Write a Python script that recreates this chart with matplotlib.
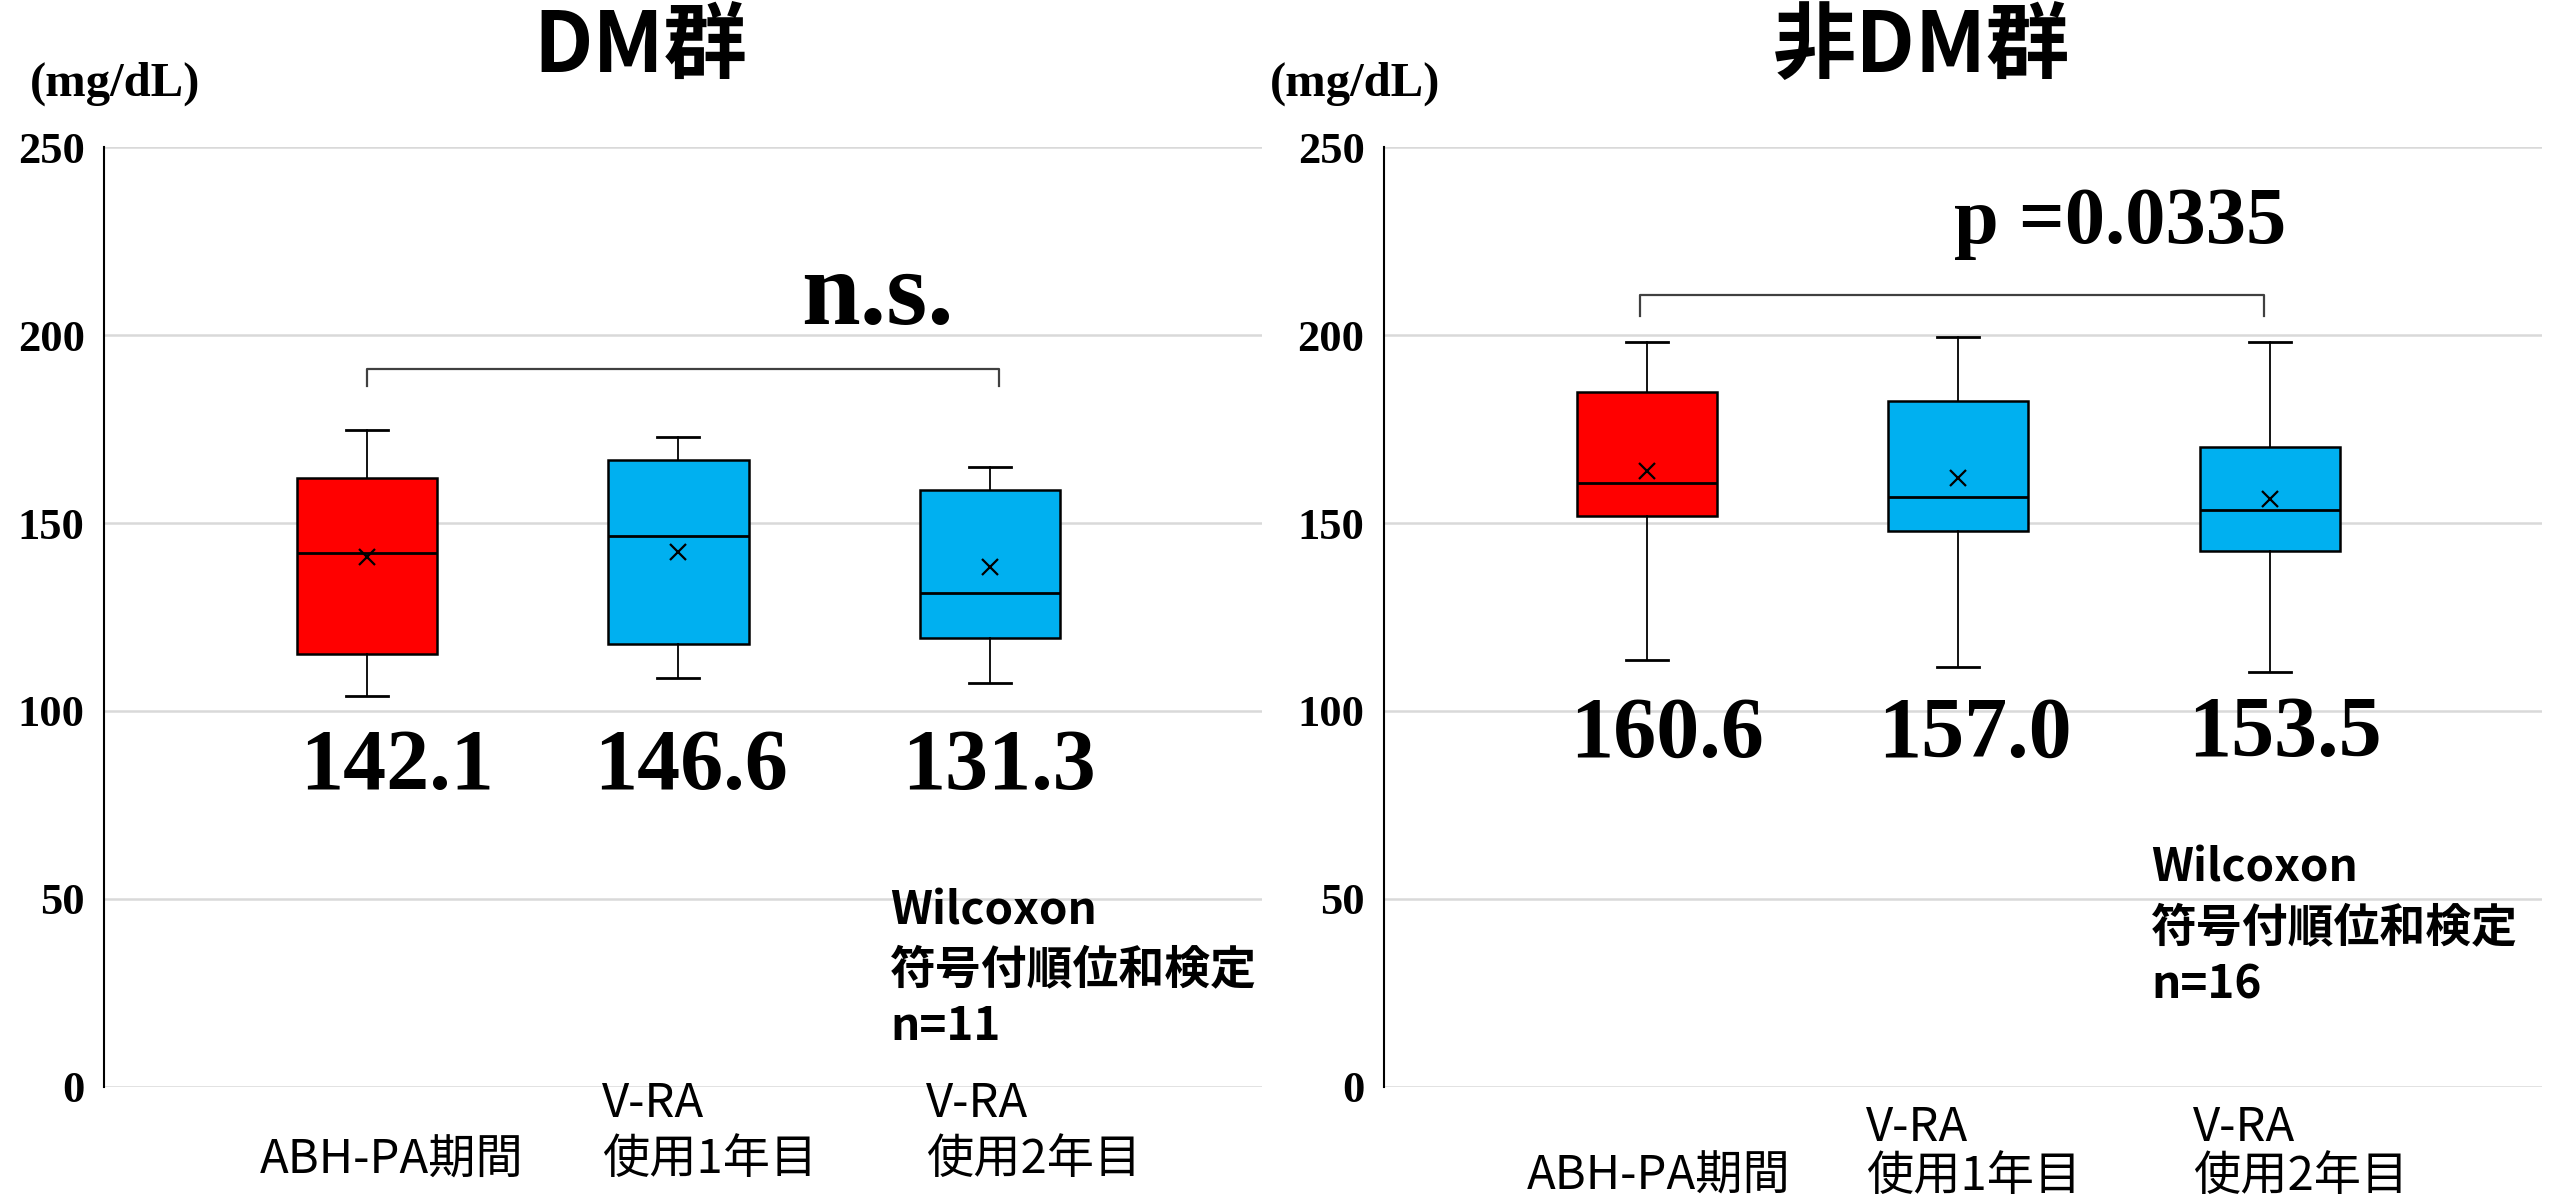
import numpy as np
import matplotlib
matplotlib.use('Agg')
import matplotlib.pyplot as plt
import matplotlib.transforms as mtransforms

# Category labels and box statistics (mg/dL)
categories = ['\nABH-PA期間', 'V-RA\n使用1年目', 'V-RA\n使用2年目']
panel_titles = ['DM群', '非DM群']

# DM group
dm_whislo = [104.0, 108.8, 107.5]
dm_q1 = [115.1, 117.7, 119.4]
dm_med = [142.1, 146.6, 131.3]
dm_q3 = [162.0, 166.7, 158.9]
dm_whishi = [174.8, 173.0, 164.9]
dm_mean = [141.1, 142.4, 138.3]

# non-DM group
ndm_whislo = [113.6, 111.6, 110.3]
ndm_q1 = [151.8, 147.9, 142.6]
ndm_med = [160.6, 157.0, 153.5]
ndm_q3 = [184.9, 182.4, 170.3]
ndm_whishi = [198.1, 199.4, 198.1]
ndm_mean = [163.8, 162.0, 156.4]

# significance brackets and annotations
dm_bracket_x = [1.0, 3.03]
dm_bracket_y = [186.4, 191.0]
ndm_bracket_x = [0.98, 2.98]
ndm_bracket_y = [205.0, 210.6]
sig_text = ['n.s.', 'p =0.0335']
note_lines = [['Wilcoxon', '符号付順位和検定', 'n=11'],
              ['Wilcoxon', '符号付順位和検定', 'n=16']]

box_colors = ['#FF0000', '#00B0F0', '#00B0F0']
positions = [1, 2, 3]

fig = plt.figure(figsize=(25.52, 11.98), dpi=100)
serif_bold = dict(family=['Liberation Serif', 'DejaVu Serif'], weight='bold')
jp = ['Noto Sans CJK JP', 'DejaVu Sans']


def make_stats(lo, q1, med, q3, hi, mean):
    return [dict(whislo=lo[i], q1=q1[i], med=med[i], q3=q3[i], whishi=hi[i],
                 mean=mean[i], fliers=[]) for i in range(len(med))]


panels = [
    dict(left=0.0408, stats=make_stats(dm_whislo, dm_q1, dm_med, dm_q3, dm_whishi, dm_mean),
         med=dm_med, bx=dm_bracket_x, by=dm_bracket_y, sig_xy=(2.64, 203.0),
         sig_size=76, label_y=79.3, label_dx=[0.096, 0.04, 0.03],
         note_x=2.68, note_y=[43.3, 27.6, 12.4], title_x=0.251, unit_x=0.045,
         xl_dx=[0.08, 0.10, 0.14], xl_y=0.008, xl_ls=1.22),
    dict(left=0.5423, stats=make_stats(ndm_whislo, ndm_q1, ndm_med, ndm_q3, ndm_whishi, ndm_mean),
         med=ndm_med, bx=ndm_bracket_x, by=ndm_bracket_y, sig_xy=(2.52, 224.6),
         sig_size=58, label_y=87.9, label_dx=[0.064, 0.054, 0.048],
         note_x=2.62, note_y=[54.5, 38.8, 23.4], title_x=0.753, unit_x=0.531,
         xl_dx=[0.04, 0.05, 0.10], xl_y=-0.018, xl_ls=1.0),
]

for k, p in enumerate(panels):
    ax = fig.add_axes([p['left'], 0.0929, 0.4536, 0.7841])
    bp = ax.bxp(p['stats'], positions=positions, widths=0.45, capwidths=0.135,
                showmeans=True, showfliers=False, patch_artist=True,
                boxprops=dict(edgecolor='black', linewidth=1.8),
                medianprops=dict(color='black', linewidth=2.0),
                whiskerprops=dict(color='black', linewidth=1.3),
                capprops=dict(color='black', linewidth=2.0),
                meanprops=dict(marker='x', markeredgecolor='black', markersize=12,
                               markeredgewidth=1.6))
    for patch, c in zip(bp['boxes'], box_colors):
        patch.set_facecolor(c)

    ax.set_xlim(0.157, 3.872)
    ax.set_ylim(0, 250)
    ax.set_yticks([0, 50, 100, 150, 200, 250])
    ax.yaxis.grid(True, color='#d9d9d9', linewidth=1.8)
    ax.set_axisbelow(True)
    for s in ['top', 'right', 'bottom']:
        ax.spines[s].set_visible(False)
    ax.spines['left'].set_linewidth(1.5)
    ax.tick_params(axis='y', length=0, pad=14)
    ax.tick_params(axis='x', length=0)
    ax.set_xticks([])
    for lab in ax.get_yticklabels():
        lab.set_fontproperties(matplotlib.font_manager.FontProperties(
            family='Liberation Serif', weight='bold', size=32))

    # category labels under the axis
    trans = mtransforms.blended_transform_factory(ax.transData, ax.transAxes)
    for i, cat in enumerate(categories):
        ax.text(positions[i] + p['xl_dx'][i], p['xl_y'], cat, transform=trans,
                ha='center', va='top', multialignment='left', fontsize=34,
                family=jp, linespacing=p['xl_ls'], clip_on=False)

    # bracket
    bx, by = p['bx'], p['by']
    ax.plot([bx[0], bx[0], bx[1], bx[1]], [by[0], by[1], by[1], by[0]],
            color='#404040', linewidth=1.6, clip_on=False)
    ax.text(p['sig_xy'][0], p['sig_xy'][1], sig_text[k], ha='center', va='baseline',
            fontsize=p['sig_size'], **serif_bold)

    # median value labels
    for i, m in enumerate(p['med']):
        ax.text(positions[i] + p['label_dx'][i], p['label_y'], f'{m:.1f}',
                ha='center', va='baseline', fontsize=62, **serif_bold)

    # test note
    for line, yy in zip(note_lines[k], p['note_y']):
        ax.text(p['note_x'], yy, line, ha='left', va='baseline', fontsize=33,
                family=jp, weight='bold', clip_on=False)

    fig.text(p['title_x'], 0.96, panel_titles[k], ha='center', va='center',
             fontsize=60, family=jp, weight='bold')
    fig.text(p['unit_x'], 0.93, '(mg/dL)', ha='center', va='center',
             fontsize=35, **serif_bold)

fig.savefig('out.png', dpi=100)
